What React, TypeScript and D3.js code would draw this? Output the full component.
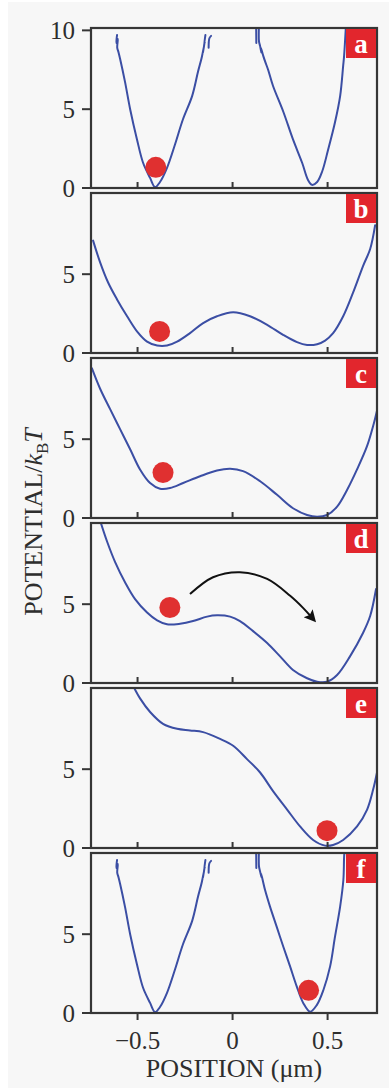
import React from 'react';
import * as d3 from 'd3';

type Pt = [number, number];

// position (um), potential (kBT)
const X_TICKS = [-0.5, 0, 0.5];
const X_TICK_LABELS = ['\u22120.5', '0', '0.5'];
const PANEL_LABELS = ['a', 'b', 'c', 'd', 'e', 'f'];

// static double-well trap (panels a and f)
const wellLeft: Pt[] = [
  [-0.608, 9.7], [-0.612, 9.2], [-0.604, 9.45], [-0.607, 8.9], [-0.6, 8.6], [-0.592, 8.2],
  [-0.566, 6.73], [-0.539, 5.0], [-0.503, 3.08], [-0.471, 1.6], [-0.434, 0.64], [-0.408, 0.06],
  [-0.382, 0.38], [-0.345, 1.28], [-0.303, 2.76], [-0.261, 4.36], [-0.213, 5.83], [-0.182, 7.37],
  [-0.162, 8.3], [-0.152, 8.9], [-0.156, 8.6], [-0.146, 9.3], [-0.151, 9.0], [-0.143, 9.7],
];
const wellLeftBit: Pt[] = [[-0.126, 8.9], [-0.122, 9.5], [-0.113, 9.65]];
const wellRightBar: Pt[] = [[0.124, 10.4], [0.125, 9.2]];
const wellRight: Pt[] = [
  [0.139, 10.4], [0.139, 9.3], [0.145, 9.0], [0.151, 8.6], [0.149, 8.9], [0.161, 8.4],
  [0.172, 8.0], [0.187, 7.5], [0.213, 6.47], [0.266, 4.87], [0.318, 3.08], [0.366, 1.6],
  [0.397, 0.51], [0.418, 0.2], [0.445, 0.38], [0.471, 1.03], [0.503, 2.44], [0.539, 4.17],
  [0.566, 5.83], [0.582, 7.76], [0.587, 8.4], [0.597, 10.4],
];
const wellRightF: Pt[] = [
  [0.139, 10.4], [0.139, 9.3], [0.145, 8.97], [0.152, 8.6], [0.15, 8.85], [0.171, 7.8],
  [0.197, 6.75], [0.232, 5.48], [0.267, 4.2], [0.303, 2.94], [0.338, 1.67], [0.373, 0.61],
  [0.408, 0.08], [0.443, 0.5], [0.478, 1.46], [0.513, 2.94], [0.539, 4.84], [0.566, 6.75],
  [0.583, 8.44], [0.587, 9.92], [0.59, 10.4],
];
const curveB: Pt[] = [
  [-0.734, 7.13], [-0.697, 5.75], [-0.655, 4.47], [-0.608, 3.4], [-0.555, 2.33], [-0.503, 1.37],
  [-0.45, 0.72], [-0.397, 0.47], [-0.345, 0.47], [-0.292, 0.72], [-0.224, 1.26], [-0.155, 1.9],
  [-0.082, 2.33], [0.003, 2.58], [0.092, 2.33], [0.182, 1.79], [0.266, 1.15], [0.339, 0.69],
  [0.392, 0.51], [0.445, 0.56], [0.487, 0.79], [0.529, 1.26], [0.582, 2.33], [0.634, 3.83],
  [0.687, 5.53], [0.724, 6.6], [0.75, 8.1],
];
const curveC: Pt[] = [
  [-0.74, 9.49], [-0.697, 8.2], [-0.645, 6.92], [-0.592, 5.64], [-0.539, 4.36], [-0.487, 3.08],
  [-0.434, 2.22], [-0.382, 1.86], [-0.329, 1.9], [-0.26, 2.22], [-0.171, 2.65], [-0.082, 3.01],
  [-0.013, 3.12], [0.055, 2.97], [0.145, 2.33], [0.234, 1.47], [0.318, 0.62], [0.392, 0.19],
  [0.445, 0.08], [0.497, 0.19], [0.55, 0.72], [0.603, 1.79], [0.655, 3.08], [0.708, 4.57],
  [0.74, 5.85], [0.76, 6.81],
];
const curveD: Pt[] = [
  [-0.697, 10.3], [-0.66, 8.96], [-0.618, 7.67], [-0.566, 6.39], [-0.513, 5.32], [-0.45, 4.47],
  [-0.397, 3.97], [-0.345, 3.72], [-0.276, 3.76], [-0.208, 3.93], [-0.134, 4.21], [-0.082, 4.29],
  [-0.013, 4.21], [0.039, 3.93], [0.108, 3.29], [0.182, 2.54], [0.25, 1.69], [0.318, 0.83],
  [0.392, 0.3], [0.445, 0.08], [0.497, 0.08], [0.55, 0.51], [0.618, 1.69], [0.687, 3.19],
  [0.724, 4.25], [0.755, 5.96],
];
const curveE: Pt[] = [
  [-0.524, 10.3], [-0.487, 9.49], [-0.434, 8.63], [-0.366, 7.88], [-0.292, 7.56], [-0.224, 7.46],
  [-0.155, 7.35], [-0.066, 6.92], [0.003, 6.49], [0.076, 5.64], [0.145, 4.79], [0.213, 3.61],
  [0.287, 2.44], [0.355, 1.37], [0.424, 0.51], [0.487, 0.15], [0.529, 0.19], [0.582, 0.51],
  [0.655, 1.37], [0.708, 2.44], [0.74, 3.72], [0.76, 4.79],
];

const panelCurves: Pt[][][] = [
  [wellLeft, wellLeftBit, wellRightBar, wellRight],
  [curveB],
  [curveC],
  [curveD],
  [curveE],
  [wellLeft, wellLeftBit, wellRightBar, wellRightF],
];

// bead position in each panel
const ballX = [-0.404, -0.384, -0.366, -0.33, 0.497, 0.4];
const ballU = [1.31, 1.37, 2.88, 4.79, 1.1, 1.44];

// hop arrow in panel d
const arrowX = [-0.224, -0.103, 0.039, 0.182, 0.303, 0.372, 0.41];
const arrowU = [5.64, 6.71, 7.03, 6.6, 5.53, 4.75, 4.25];

const W = 389;
const H = 1091;
const left = 91;
const right = 377;
const top0 = 28;
const panelH = 160;
const step = 165;
const blue = '#3b4ea4';
const frame = '#363636';
const ink = '#2e2e2e';
const red = '#e2262d';
const font = '"Liberation Serif", "DejaVu Serif", serif';

const x = d3.scaleLinear().domain([-0.745, 0.76]).range([left, right]);

export default function App() {
  return (
    <svg width={W} height={H} style={{ position: 'absolute', left: 0, top: 0, display: 'block' }}>
      <defs>
        <marker id="head" viewBox="0 0 10 10" refX="3" refY="5" markerWidth="7" markerHeight="6"
          markerUnits="strokeWidth" orient="auto">
          <path d="M0,0 L10,5 L0,10 L2,5 Z" fill="#111" />
        </marker>
        {PANEL_LABELS.map((l, i) => (
          <clipPath id={`clip-${l}`} key={l}>
            <rect x={left} y={top0 + i * step} width={right - left} height={panelH} />
          </clipPath>
        ))}
      </defs>
      <rect x={0} y={0} width={W} height={H} fill="#fff" />
      <rect x={8} y={2} width={W - 8} height={1086} fill="#f7f7f7" />
      {PANEL_LABELS.map((l, i) => {
        const top = top0 + i * step;
        const bottom = top + panelH;
        const y = d3.scaleLinear().domain([0, 10.15]).range([bottom, top]);
        const line = d3.line<Pt>()
          .x((d) => x(d[0]))
          .y((d) => y(d[1]))
          .curve(d3.curveCatmullRom.alpha(0.5));
        const yTicks = i === 0 ? [0, 5, 10] : [0, 5];
        const last = i === PANEL_LABELS.length - 1;
        return (
          <g key={l}>
            <g clipPath={`url(#clip-${l})`}>
              {panelCurves[i].map((c, j) => (
                <path key={j} d={line(c) || ''} fill="none" stroke={blue} strokeWidth={2}
                  strokeLinejoin="round" strokeLinecap="round" />
              ))}
            </g>
            <circle cx={x(ballX[i])} cy={y(ballU[i])} r={10.5} fill="#e03030" />
            {l === 'd' && (
              <path
                d={line(arrowX.map((v, k) => [v, arrowU[k]] as Pt)) || ''}
                fill="none" stroke="#111" strokeWidth={2} markerEnd="url(#head)"
              />
            )}
            <rect x={left} y={top} width={right - left} height={panelH} fill="none"
              stroke={frame} strokeWidth={2.2} />
            {yTicks.map((t) => (
              <g key={t}>
                <line x1={left - 9} x2={left} y1={y(t)} y2={y(t)} stroke={frame} strokeWidth={2} />
                <text x={75} y={y(t)} dy="0.35em" textAnchor="end" fontFamily={font}
                  fontSize={25} fill={ink}>{t}</text>
              </g>
            ))}
            {X_TICKS.map((t) => (
              <line key={t} x1={x(t)} x2={x(t)} y1={bottom} y2={last ? bottom + 7 : bottom - 6}
                stroke={frame} strokeWidth={2} />
            ))}
            <rect x={right - 31} y={top + 1} width={30} height={29} fill={red} />
            <text x={right - 16} y={top + 16} dy="0.35em" textAnchor="middle" fontFamily={font}
              fontSize={27} fontWeight="bold" fill="#fff">{l}</text>
            {last && X_TICKS.map((t, k) => (
              <text key={t} x={x(t)} y={bottom + 36} textAnchor="middle" fontFamily={font}
                fontSize={25} fill={ink}>{X_TICK_LABELS[k]}</text>
            ))}
          </g>
        );
      })}
      <text x={234} y={1077} textAnchor="middle" fontFamily={font} fontSize={26} fill={ink}>
        POSITION ({'\u03bc'}m)
      </text>
      <text transform="translate(42,522) rotate(-90)" textAnchor="middle" fontFamily={font}
        fontSize={26} fill={ink}>
        POTENTIAL/<tspan fontStyle="italic">k</tspan>
        <tspan fontSize={17} dy={6}>B</tspan>
        <tspan fontStyle="italic" dy={-6}>T</tspan>
      </text>
    </svg>
  );
}
